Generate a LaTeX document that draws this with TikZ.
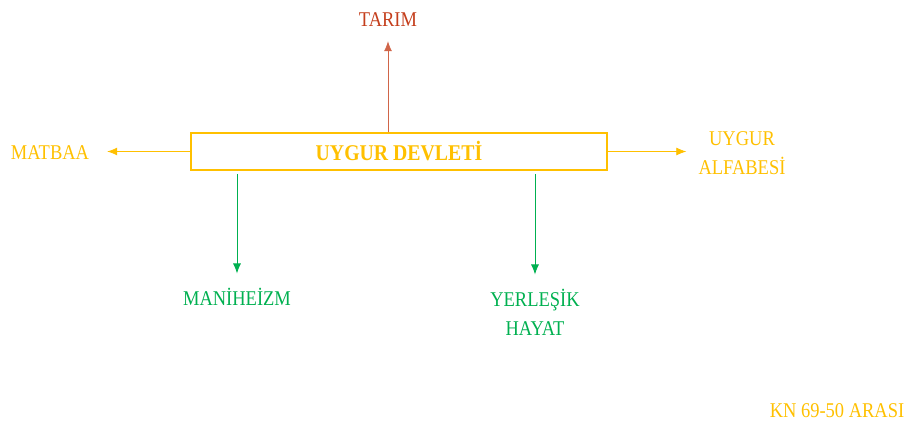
\documentclass[tikz,border=0pt]{standalone}
\usepackage{fontspec}
\setmainfont[FakeStretch=0.88]{Liberation Serif}
\usepackage{tikz}
\usetikzlibrary{
  calc,
  positioning,
  arrows.meta
}
\definecolor{gold}{HTML}{FFC000}
\definecolor{leaf}{HTML}{00B050}
\definecolor{brick}{HTML}{C43E1C}

\begin{document}
\begin{tikzpicture}[x=1pt,y=-1pt, >={Latex[length=10pt,width=8pt]},
  lbl/.style={inner sep=0pt, anchor=base, align=center, font=\fontsize{21}{29}\selectfont},
  hub/.style={draw=gold, line width=1.5pt, minimum width=416pt, minimum height=37pt, inner sep=0pt, text=gold, font=\fontsize{22.5}{29}\selectfont\bfseries},
  link/.style={->, line width=0.8pt}]
\useasboundingbox (0,0) rectangle (914,423);
\node[hub] (devlet) at (399,151.5) {UYGUR DEVLETİ};
\node[lbl, text=brick] (tarim) at (388,27) {TARIM};
\node[lbl, text=gold] (matbaa) at (50,159) {MATBAA};
\node[lbl, text=gold] (alfabe) at (742,174) {UYGUR\\ALFABESİ};
\node[lbl, text=leaf] (mani) at (237,305) {MANİHEİZM};
\node[lbl, text=leaf] (yerlesik) at (535,335) {YERLEŞİK\\HAYAT};
\node[lbl, text=gold] (kn) at (837,417) {KN 69-50 ARASI};
\draw[link, draw=brick!80, shorten >=14pt] (devlet.north -| tarim) -- (tarim.south);
\draw[link, draw=gold, shorten >=18pt] (devlet.west) -- (devlet.west -| matbaa.east);
\draw[link, draw=gold, shorten >=12pt] (devlet.east) -- (devlet.east -| alfabe.west);
\draw[link, draw=leaf, shorten <=3pt, shorten >=14pt] (devlet.south -| mani) -- (mani.north);
\draw[link, draw=leaf, shorten <=3pt, shorten >=14pt] (devlet.south -| yerlesik) -- (yerlesik.north);
\end{tikzpicture}
\end{document}
